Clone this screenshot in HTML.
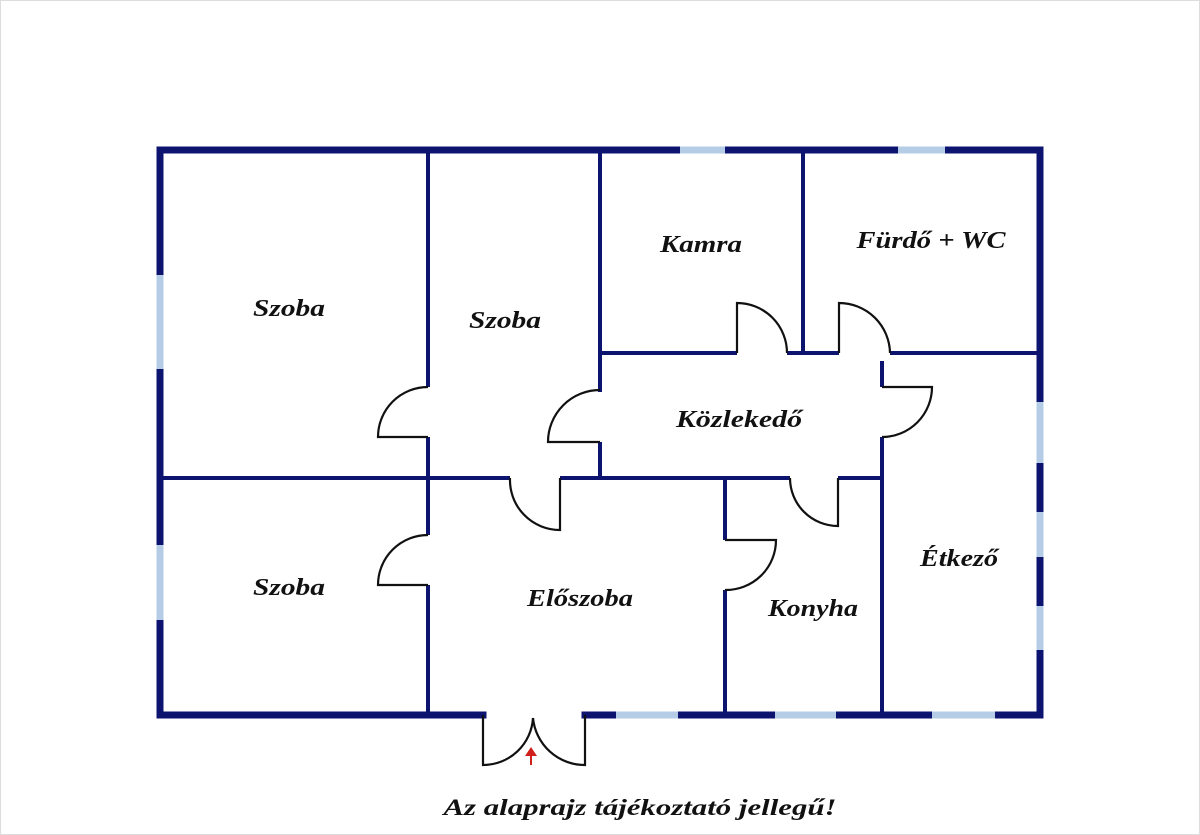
<!DOCTYPE html>
<html><head><meta charset="utf-8"><style>
html,body{margin:0;padding:0;background:#fff;}
svg{display:block}
text{font-family:"Liberation Serif",serif;font-weight:bold;font-style:italic;fill:#111;text-anchor:middle}
</style></head><body>
<svg width="1200" height="835" viewBox="0 0 1200 835" xmlns="http://www.w3.org/2000/svg">
<rect x="0" y="0" width="1200" height="835" fill="#fff"/>
<rect x="0.5" y="0.5" width="1199" height="834" fill="none" stroke="#ddd"/>
<g stroke="#0c1470" stroke-width="7" fill="none" stroke-linecap="square">
<line x1="160" y1="150" x2="1040" y2="150"/>
<line x1="160" y1="150" x2="160" y2="715"/>
<line x1="1040" y1="150" x2="1040" y2="715"/>
<line x1="160" y1="715" x2="483" y2="715"/>
<line x1="585" y1="715" x2="1040" y2="715"/>
</g>
<g stroke="#b4cce6" stroke-width="7" fill="none">
<line x1="680" y1="150" x2="725" y2="150"/>
<line x1="898" y1="150" x2="945" y2="150"/>
<line x1="160" y1="275" x2="160" y2="369"/>
<line x1="160" y1="545" x2="160" y2="620"/>
<line x1="1040" y1="402" x2="1040" y2="463"/>
<line x1="1040" y1="512" x2="1040" y2="557"/>
<line x1="1040" y1="606" x2="1040" y2="650"/>
<line x1="616" y1="715" x2="678" y2="715"/>
<line x1="775" y1="715" x2="836" y2="715"/>
<line x1="932" y1="715" x2="995" y2="715"/>
</g>
<g stroke="#0c1470" stroke-width="4" fill="none">
<line x1="428" y1="150" x2="428" y2="387"/>
<line x1="428" y1="437" x2="428" y2="535"/>
<line x1="428" y1="585" x2="428" y2="715"/>
<line x1="160" y1="478" x2="510" y2="478"/>
<line x1="560" y1="478" x2="790" y2="478"/>
<line x1="838" y1="478" x2="882" y2="478"/>
<line x1="600" y1="150" x2="600" y2="392"/>
<line x1="600" y1="442" x2="600" y2="478"/>
<line x1="600" y1="353" x2="737" y2="353"/>
<line x1="787" y1="353" x2="839" y2="353"/>
<line x1="890" y1="353" x2="1040" y2="353"/>
<line x1="803" y1="150" x2="803" y2="353"/>
<line x1="882" y1="361" x2="882" y2="387"/>
<line x1="882" y1="437" x2="882" y2="715"/>
<line x1="725" y1="478" x2="725" y2="540"/>
<line x1="725" y1="590" x2="725" y2="715"/>
</g>
<g stroke="#111" stroke-width="2.2" fill="none">
<path d="M428 437 H378 A50 50 0 0 1 428 387"/>
<path d="M428 585 H378 A50 50 0 0 1 428 535"/>
<path d="M600 442 H548 A52 52 0 0 1 600 390"/>
<path d="M737 353 V303 A50 50 0 0 1 787 353"/>
<path d="M839 353 V303 A51 51 0 0 1 890 353"/>
<path d="M882 387 H932 A50 50 0 0 1 882 437"/>
<path d="M560 478 V530 A50 50 0 0 1 510 478"/>
<path d="M838 478 V526 A48 48 0 0 1 790 478"/>
<path d="M725 540 H776 A50 50 0 0 1 725 590"/>
<path d="M483 715 V765 A50 50 0 0 0 533 718"/>
<path d="M585 715 V765 A52 52 0 0 1 533 718"/>
</g>
<path d="M530 765 V756 H525 L531 747 L537 756 H532 V765 Z" fill="#d0201c"/>
<g font-size="24">
<text x="289" y="316" textLength="72" lengthAdjust="spacingAndGlyphs">Szoba</text>
<text x="505" y="328" textLength="72" lengthAdjust="spacingAndGlyphs">Szoba</text>
<text x="701" y="252" textLength="82" lengthAdjust="spacingAndGlyphs">Kamra</text>
<text x="931" y="248" textLength="149" lengthAdjust="spacingAndGlyphs">Fürdő + WC</text>
<text x="739" y="427" textLength="126" lengthAdjust="spacingAndGlyphs">Közlekedő</text>
<text x="289" y="595" textLength="72" lengthAdjust="spacingAndGlyphs">Szoba</text>
<text x="580" y="606" textLength="106" lengthAdjust="spacingAndGlyphs">Előszoba</text>
<text x="813" y="616" textLength="90" lengthAdjust="spacingAndGlyphs">Konyha</text>
<text x="959" y="566" textLength="78" lengthAdjust="spacingAndGlyphs">Étkező</text>
</g>
<text x="640" y="815" font-size="23" textLength="393" lengthAdjust="spacingAndGlyphs">Az alaprajz tájékoztató jellegű!</text>
</svg>
</body></html>
